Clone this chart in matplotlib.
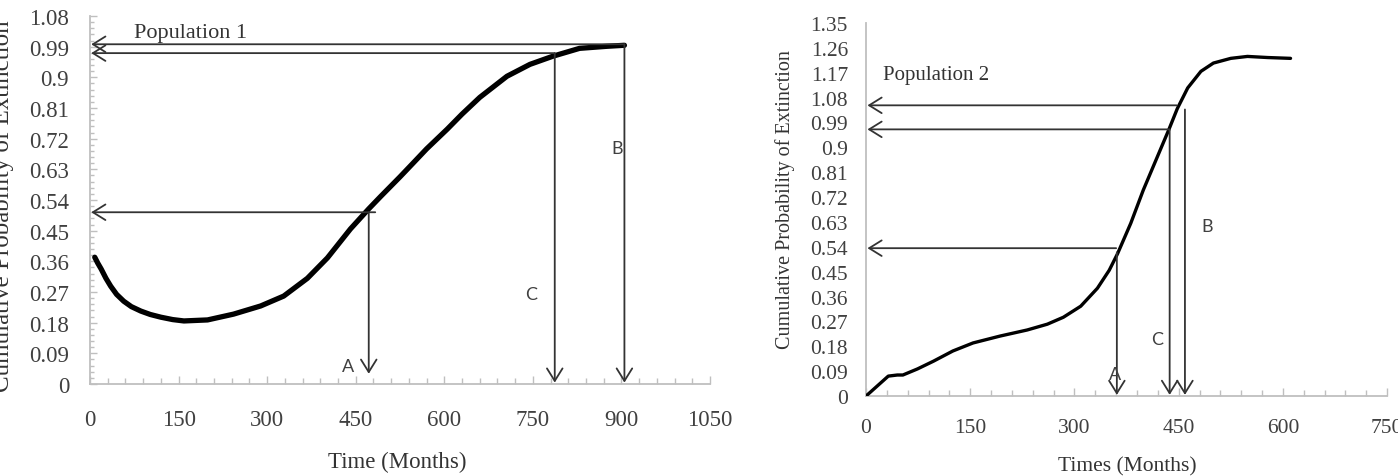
import numpy as np
import matplotlib
matplotlib.use('Agg')
import matplotlib.pyplot as plt
from matplotlib.ticker import MultipleLocator, FuncFormatter

plt.rcParams['font.family'] = ['Liberation Serif', 'DejaVu Serif']

# Population 1 curve (months, cumulative probability)
t1 = [8, 13, 19, 27, 35, 45, 57, 70, 86, 102, 120, 140, 159, 199, 243, 289, 328,
      368, 402, 441, 472, 492, 525, 547, 570, 605, 630, 660, 706, 745, 784, 829,
      875, 905]
p1 = [0.372, 0.355, 0.337, 0.310, 0.287, 0.263, 0.243, 0.227, 0.214, 0.204, 0.196,
      0.189, 0.185, 0.188, 0.205, 0.229, 0.258, 0.310, 0.370, 0.455, 0.514, 0.550,
      0.608, 0.648, 0.690, 0.748, 0.792, 0.841, 0.903, 0.938, 0.962, 0.985, 0.991,
      0.994]

# Population 2 curve
t2 = [0, 16, 32, 45, 53, 74, 97, 125, 154, 193, 232, 261, 284, 309, 333, 350, 362,
      381, 399, 420, 436, 448, 463, 482, 500, 525, 549, 578, 611]
p2 = [0.0, 0.036, 0.072, 0.076, 0.076, 0.098, 0.126, 0.163, 0.192, 0.217, 0.239,
      0.260, 0.285, 0.325, 0.390, 0.455, 0.515, 0.625, 0.745, 0.870, 0.965, 1.040,
      1.115, 1.175, 1.205, 1.222, 1.229, 1.225, 1.222]

# arrows: (x_start, y_start, x_end, y_end)
arrows1 = [(905, 0.997, 2, 0.997), (787, 0.971, 2, 0.971), (483, 0.504, 2, 0.504),
           (472, 0.504, 472, 0.03), (787, 0.971, 787, 0.004), (905, 0.997, 905, 0.004)]
arrows2 = [(447, 1.052, 2, 1.052), (436, 0.965, 2, 0.965), (360, 0.535, 2, 0.535),
           (361, 0.52, 361, 0.004), (437, 0.965, 437, 0.004), (459, 1.037, 459, 0.004)]

# point labels: (text, x, y)
labels1 = [('A', 427, 0.053), ('C', 736, 0.264), ('B', 883, 0.692)]
labels2 = [('A', 349, 0.08), ('C', 410, 0.206), ('B', 482, 0.614)]

axis_col = '#bfbfbf'
tick_col = '#404040'
arrow_col = '#333333'


def fmt(v, pos):
    return '%g' % round(v, 2)


def style_axes(ax, xmax, ymax, fs, xpad, ypad, yticks_len):
    ax.set_xlim(0, xmax)
    ax.set_ylim(0, ymax)
    for s in ['top', 'right']:
        ax.spines[s].set_visible(False)
    for s in ['left', 'bottom']:
        ax.spines[s].set_color(axis_col)
        ax.spines[s].set_linewidth(1.3)
    ax.xaxis.set_major_locator(MultipleLocator(150))
    ax.xaxis.set_minor_locator(MultipleLocator(30))
    ax.yaxis.set_major_locator(MultipleLocator(0.09))
    ax.yaxis.set_minor_locator(MultipleLocator(0.018))
    ax.yaxis.set_major_formatter(FuncFormatter(fmt))
    ax.tick_params(axis='x', which='major', direction='in', length=6, width=1,
                   color=axis_col, labelsize=fs, labelcolor=tick_col, pad=xpad)
    ax.tick_params(axis='x', which='minor', direction='in', length=4, width=1,
                   color=axis_col)
    ax.tick_params(axis='y', which='major', direction='in', length=yticks_len, width=1,
                   color=axis_col, labelsize=fs, labelcolor=tick_col, pad=ypad)
    ax.tick_params(axis='y', which='minor', direction='in', length=yticks_len * 0.6,
                   width=1, color=axis_col)


def draw_arrows(ax, arrows):
    for x0, y0, x1, y1 in arrows:
        ax.annotate('', xy=(x1, y1), xytext=(x0, y0),
                    arrowprops=dict(arrowstyle='->,head_length=0.45,head_width=0.28',
                                    color=arrow_col, lw=1.3, shrinkA=0, shrinkB=0,
                                    mutation_scale=20))


fig = plt.figure(figsize=(13.98, 4.77), dpi=100)

# left panel
ax1 = fig.add_axes([0.0644, 0.1929, 0.4435, 0.7715])
style_axes(ax1, 1050, 1.08, 16.5, 18, 15, 5)
ax1.plot(t1, p1, color='black', lw=3.8, solid_capstyle='round',
         solid_joinstyle='round', zorder=3)
draw_arrows(ax1, arrows1)
for txt, x, y in labels1:
    ax1.text(x, y, txt, family=['Lato', 'DejaVu Sans'], fontsize=13, color='#404040',
             ha='left', va='center')
ax1.text(74, 1.032, 'Population 1', fontsize=16, color='#333333', ha='left', va='center')

# right panel
ax2 = fig.add_axes([0.6195, 0.1677, 0.3727, 0.782])
style_axes(ax2, 750, 1.35, 15.5, 16, 13, 0)
ax2.plot(t2, p2, color='black', lw=2.4, solid_capstyle='round',
         solid_joinstyle='round', zorder=3)
draw_arrows(ax2, arrows2)
for txt, x, y in labels2:
    ax2.text(x, y, txt, family=['Lato', 'DejaVu Sans'], fontsize=13, color='#404040',
             ha='left', va='center')
ax2.text(25, 1.164, 'Population 2', fontsize=15, color='#333333', ha='left', va='center')

# axis titles
fig.text(0.002, 0.568, 'Cumulative Probability of Extinction', rotation=90,
         fontsize=18, color='#333333', ha='center', va='center')
fig.text(397 / 1398, 0.031, 'Time (Months)', fontsize=16.5, color='#333333',
         ha='center', va='center')
fig.text(785 / 1398, 0.581, 'Cumulative Probability of Extinction', rotation=90,
         fontsize=14.5, color='#333333', ha='center', va='center')
fig.text(1127 / 1398, 0.021, 'Times (Months)', fontsize=15.5, color='#333333',
         ha='center', va='center')

fig.savefig('out.png', dpi=100)
